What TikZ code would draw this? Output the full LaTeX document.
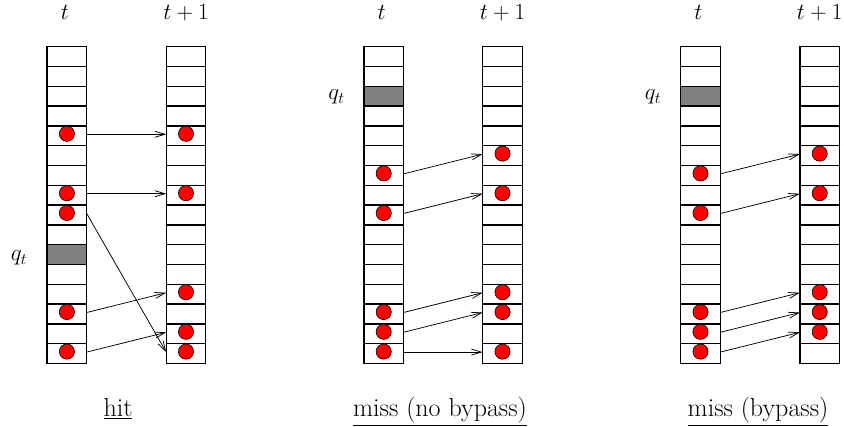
\RequirePackage{fix-cm}
\documentclass[tikz,border=0pt]{standalone}
\usetikzlibrary{arrows.meta}
\tikzset{
  cell/.style={draw, line width=1.35pt, minimum width=39.6pt, minimum height=19.8pt, inner sep=0pt, outer sep=0pt},
  qcell/.style={cell, fill=gray},
  ball/.style={circle, draw, line width=0.6pt, fill=red, minimum size=15.2pt, inner sep=0pt},
  arr/.style={line width=0.75pt, -{Straight Barb[length=10pt,width=6pt,line width=0.75pt]}},
  lbl/.style={font=\fontsize{23}{28}\selectfont, anchor=base, inner sep=0pt},
  captext/.style={font=\fontsize{26}{31}\selectfont, anchor=base, inner sep=0pt},
}
\begin{document}
\begin{tikzpicture}[x=1pt, y=-1pt]
\useasboundingbox (0,0) rectangle (844,427);
% columns
\foreach \p/\lx/\rx in {1/66.9/186, 2/383.7/502.5, 3/700.5/819.7}{
  \foreach \r in {0,...,15}{
    \node[cell] (p\p L\r) at (\lx, 46.7+\r*19.8+9.9) {};
    \node[cell] (p\p R\r) at (\rx, 46.7+\r*19.8+9.9) {};
  }
  \node[lbl] (tl\p) at (\lx-2, 20) {$t$};
  \node[lbl] (tr\p) at (\rx, 20) {$t+1$};
}
% grey cells
\node[qcell] at (p1L10) {};
\node[qcell] at (p2L2) {};
\node[qcell] at (p3L2) {};
\node[lbl] (q1) at (19, 261) {$q_t$};
\node[lbl] (q2) at (336.5, 100) {$q_t$};
\node[lbl] (q3) at (653, 100) {$q_t$};
% balls
\foreach \c in {p1L4,p1L7,p1L8,p1L13,p1L15, p1R4,p1R7,p1R12,p1R14,p1R15,
                p2L6,p2L8,p2L13,p2L14,p2L15, p2R5,p2R7,p2R12,p2R13,p2R15,
                p3L6,p3L8,p3L13,p3L14,p3L15, p3R5,p3R7,p3R12,p3R13,p3R14}{
  \node[ball] (b\c) at ([yshift=2pt]\c.center) {};
}
% arrows
\foreach \a/\b in {p1L4/p1R4, p1L7/p1R7, p1L8/p1R15, p1L13/p1R12, p1L15/p1R14,
                   p2L6/p2R5, p2L8/p2R7, p2L13/p2R12, p2L14/p2R13, p2L15/p2R15,
                   p3L6/p3R5, p3L8/p3R7, p3L13/p3R12, p3L14/p3R13, p3L15/p3R14}{
  \draw[arr] ([yshift=1.5pt]\a.east) -- ([yshift=1.5pt]\b.west);
}
% captions
\node[captext] (c1) at (118, 417) {\underline{hit}};
\node[captext] (c2) at (440, 417) {\underline{miss (no bypass)}};
\node[captext] (c3) at (758, 417) {\underline{miss (bypass)}};
\end{tikzpicture}
\end{document}
